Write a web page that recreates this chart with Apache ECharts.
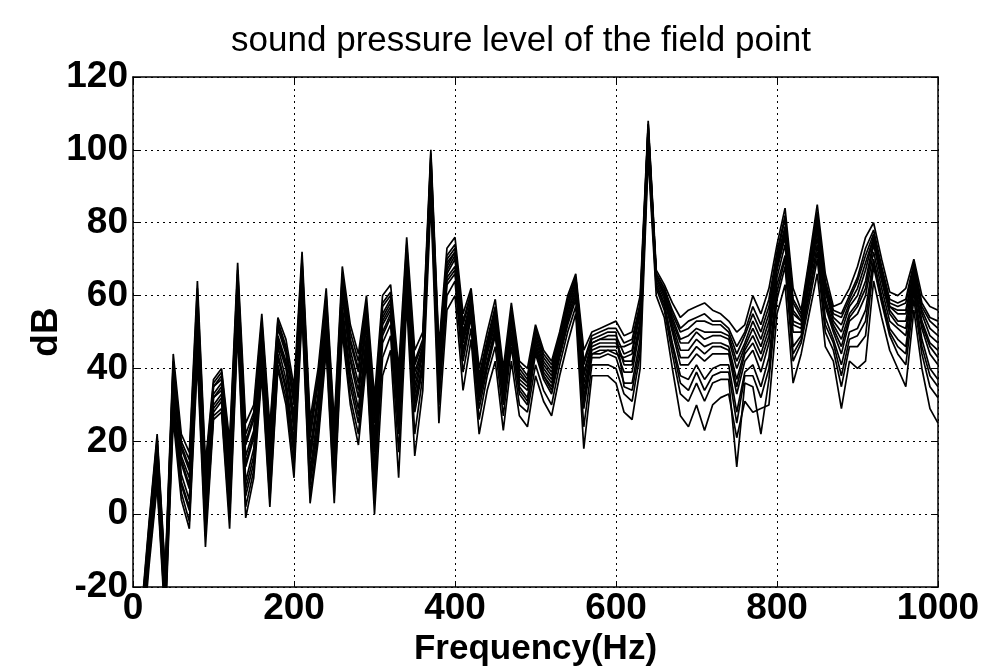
<!DOCTYPE html>
<html>
<head>
<meta charset="utf-8">
<script src="https://cdn.jsdelivr.net/npm/echarts@6/dist/echarts.min.js"></script>
<style>
html, body { margin: 0; padding: 0; background: #fff; }
#main { width: 992px; height: 672px; }
</style>
</head>
<body>
<div id="main"></div>
<script>
// frequency grid, 10 Hz step
var freq = [10, 20, 30, 40, 50, 60, 70, 80, 90, 100,
    110, 120, 130, 140, 150, 160, 170, 180, 190, 200,
    210, 220, 230, 240, 250, 260, 270, 280, 290, 300,
    310, 320, 330, 340, 350, 360, 370, 380, 390, 400,
    410, 420, 430, 440, 450, 460, 470, 480, 490, 500,
    510, 520, 530, 540, 550, 560, 570, 580, 590, 600,
    610, 620, 630, 640, 650, 660, 670, 680, 690, 700,
    710, 720, 730, 740, 750, 760, 770, 780, 790, 800,
    810, 820, 830, 840, 850, 860, 870, 880, 890, 900,
    910, 920, 930, 940, 950, 960, 970, 980, 990, 1000]

// sound pressure level (dB) of the field points
var spl1 = [-28, -2, 22, -16, 44, 22, 17, 64, 14, 37,
    40, 20, 69, 25, 30, 55, 24, 54, 48, 35,
    72, 26, 40, 62, 25, 68, 52, 44, 60, 32,
    60, 63, 40, 76, 45, 50, 100, 46, 73, 76,
    55, 62, 40, 50, 59, 40, 58, 42, 40, 52,
    45, 42, 50, 60, 66, 45, 50, 51, 52, 53,
    49, 50, 60, 108, 67, 63, 58, 54, 56, 57,
    58, 56, 55, 53, 50, 52, 60, 55, 62, 74,
    84, 62, 56, 70, 85, 66, 57, 58, 62, 68,
    76, 80, 70, 61, 60, 62, 70, 60, 57, 56]
var spl2 = [-29, -3, 21, -17, 42, 20, 15, 62, 12, 36,
    39, 18, 67, 22, 28, 53, 22, 53, 46, 33,
    70, 24, 38, 60, 23, 66, 50, 42, 58, 29,
    58, 61, 37, 74, 42, 48, 99, 44, 71, 74,
    53, 61, 38, 48, 57, 38, 56, 41, 38, 51,
    44, 41, 49, 59, 65, 42, 49, 50, 51, 51,
    47, 48, 58, 107, 66, 62, 56, 51, 53, 54,
    55, 53, 53, 51, 46, 50, 57, 52, 59, 72,
    82, 59, 55, 69, 83, 64, 56, 55, 60, 65,
    73, 78, 68, 59, 58, 59, 69, 58, 54, 53]
var spl3 = [-31, -5, 19, -19, 40, 18, 12, 59, 9, 35,
    37, 15, 65, 19, 26, 51, 19, 51, 44, 30,
    68, 21, 36, 58, 20, 64, 47, 39, 56, 25,
    55, 59, 33, 72, 39, 46, 97, 41, 69, 72,
    50, 59, 36, 46, 55, 36, 54, 39, 36, 49,
    42, 39, 47, 57, 64, 39, 47, 48, 49, 49,
    44, 45, 56, 106, 65, 61, 54, 48, 49, 51,
    50, 50, 50, 49, 42, 47, 53, 48, 55, 70,
    79, 56, 53, 67, 81, 62, 54, 52, 58, 62,
    69, 76, 66, 57, 56, 56, 67, 56, 51, 49]
var spl4 = [-32, -6, 17, -21, 38, 16, 10, 57, 6, 33,
    36, 12, 63, 16, 23, 49, 17, 49, 42, 27,
    66, 18, 33, 56, 18, 62, 45, 36, 54, 21,
    53, 57, 30, 70, 35, 45, 95, 39, 67, 71,
    48, 57, 34, 45, 53, 34, 53, 37, 35, 47,
    40, 37, 46, 56, 62, 36, 46, 47, 47, 47,
    42, 42, 53, 105, 65, 60, 52, 45, 45, 48,
    46, 47, 47, 46, 37, 45, 49, 44, 51, 68,
    77, 53, 52, 65, 79, 59, 52, 48, 55, 58,
    64, 75, 65, 56, 53, 53, 65, 53, 47, 45]
var spl5 = [-34, -8, 15, -23, 36, 14, 7, 54, 3, 32,
    34, 9, 60, 13, 21, 47, 14, 47, 40, 23,
    64, 15, 31, 54, 15, 60, 42, 32, 52, 17,
    50, 55, 26, 68, 31, 42, 93, 36, 65, 68,
    45, 55, 32, 42, 51, 32, 50, 35, 32, 45,
    38, 35, 44, 54, 61, 32, 44, 45, 45, 45,
    39, 39, 51, 103, 64, 59, 50, 41, 41, 44,
    42, 44, 44, 44, 33, 42, 45, 39, 47, 65,
    74, 50, 50, 63, 76, 57, 50, 44, 53, 55,
    60, 72, 62, 53, 51, 49, 63, 51, 44, 41]
var spl6 = [-35, -9, 14, -24, 33, 11, 4, 51, 0, 30,
    33, 6, 58, 9, 18, 45, 11, 46, 37, 20,
    62, 12, 28, 52, 12, 57, 39, 29, 49, 13,
    47, 52, 22, 65, 28, 40, 92, 33, 63, 66,
    42, 54, 29, 40, 49, 30, 48, 33, 30, 44,
    37, 33, 43, 52, 59, 29, 43, 43, 44, 43,
    36, 36, 48, 102, 63, 58, 47, 38, 37, 41,
    37, 40, 41, 41, 28, 39, 41, 35, 43, 63,
    71, 46, 49, 61, 74, 54, 48, 41, 50, 51,
    56, 70, 60, 51, 48, 46, 62, 48, 40, 37]
var spl7 = [-37, -11, 11, -27, 30, 8, 1, 47, -4, 28,
    31, 1, 54, 5, 14, 42, 7, 43, 34, 16,
    59, 8, 24, 49, 8, 54, 35, 25, 46, 7,
    43, 49, 17, 62, 22, 38, 89, 30, 60, 64,
    39, 51, 26, 38, 46, 27, 46, 30, 28, 41,
    34, 30, 41, 50, 57, 24, 41, 41, 41, 40,
    33, 31, 44, 100, 62, 56, 44, 33, 31, 36,
    31, 36, 37, 37, 13, 36, 35, 22, 37, 59,
    68, 42, 47, 58, 70, 50, 45, 35, 46, 46,
    49, 68, 58, 49, 44, 41, 59, 44, 35, 32]
var spl8 = [-40, -14, 8, -30, 26, 4, -4, 42, -9, 26,
    28, -4, 50, -1, 10, 38, 2, 40, 30, 10,
    55, 3, 20, 45, 3, 50, 30, 19, 42, 0,
    38, 45, 10, 58, 16, 34, 86, 25, 56, 60,
    34, 48, 22, 34, 42, 23, 42, 27, 24, 38,
    31, 27, 38, 47, 55, 18, 38, 38, 38, 36,
    28, 26, 40, 98, 60, 54, 40, 27, 24, 30,
    23, 30, 32, 33, 21, 31, 28, 29, 30, 55,
    63, 36, 44, 55, 66, 46, 42, 29, 42, 40,
    42, 64, 54, 45, 40, 35, 56, 40, 29, 25]
var spl9 = [-30, -4, 20, -18, 41, 19, 13, 60, 10, 35,
    38, 16, 66, 20, 27, 52, 20, 52, 45, 31,
    69, 22, 37, 59, 21, 65, 48, 40, 57, 27,
    49, 54, 24, 67, 30, 41, 92, 35, 64, 67,
    44, 55, 31, 41, 50, 31, 49, 34, 31, 45,
    38, 34, 44, 53, 60, 31, 44, 44, 45, 44,
    43, 44, 55, 106, 65, 61, 53, 47, 47, 50,
    48, 49, 49, 48, 40, 46, 51, 46, 53, 69,
    78, 55, 53, 66, 80, 61, 53, 50, 57, 60,
    67, 76, 66, 57, 55, 55, 66, 55, 49, 47]
var spl10 = [-33, -7, 16, -22, 37, 15, 8, 55, 4, 32,
    35, 10, 61, 14, 22, 48, 15, 48, 41, 25,
    65, 16, 32, 55, 16, 61, 43, 34, 53, 19,
    57, 60, 35, 73, 41, 47, 98, 43, 70, 73,
    52, 60, 37, 47, 56, 37, 55, 40, 37, 50,
    43, 40, 48, 58, 65, 41, 48, 49, 50, 50,
    35, 34, 46, 101, 63, 57, 46, 36, 34, 39,
    34, 38, 39, 39, 25, 38, 38, 32, 40, 61,
    70, 44, 48, 60, 72, 52, 47, 38, 48, 49,
    53, 69, 59, 50, 46, 44, 61, 46, 38, 35]
var spl11 = [-36, -10, 12, -25, 31, 9, 2, 49, -2, 29,
    32, 3, 56, 7, 16, 43, 9, 44, 35, 18,
    60, 10, 26, 50, 10, 55, 37, 27, 47, 10,
    54, 58, 32, 71, 37, 46, 96, 40, 68, 72,
    49, 58, 35, 46, 54, 35, 54, 38, 36, 48,
    41, 38, 47, 57, 63, 38, 47, 48, 48, 48,
    41, 41, 52, 104, 65, 60, 51, 43, 43, 46,
    44, 46, 46, 45, 35, 44, 47, 42, 49, 67,
    76, 52, 51, 64, 78, 58, 51, 46, 54, 57,
    62, 74, 64, 55, 52, 51, 64, 52, 46, 43]
var spl12 = [-38, -12, 9, -28, 28, 6, -2, 44, -6, 27,
    29, -1, 52, 2, 12, 40, 4, 41, 32, 13,
    57, 5, 22, 47, 5, 52, 32, 22, 44, 3,
    52, 56, 28, 69, 33, 44, 94, 38, 66, 70,
    47, 56, 33, 44, 52, 33, 52, 36, 34, 46,
    39, 36, 45, 55, 62, 34, 45, 46, 46, 46,
    46, 47, 57, 107, 66, 62, 55, 50, 51, 53,
    53, 52, 52, 50, 44, 49, 55, 50, 57, 71,
    81, 58, 54, 68, 82, 63, 55, 54, 59, 64,
    71, 77, 67, 58, 57, 58, 68, 57, 53, 51]

var xTicks = [0, 200, 400, 600, 800, 1000]
var yTicks = [-20, 0, 20, 40, 60, 80, 100, 120]

var curves = [spl1, spl2, spl3, spl4, spl5, spl6, spl7, spl8, spl9, spl10, spl11, spl12]

var font = "'Liberation Sans', Arial, sans-serif"

var box = document.getElementById('main')
var myChart = echarts.init(box, null, { renderer: 'canvas' })

var series = curves.map(function (c, i) {
    return {
        name: 'point ' + (i + 1),
        type: 'line',
        data: freq.map(function (f, j) { return [f, c[j]] }),
        symbol: 'none',
        clip: true,
        lineStyle: { color: '#000', width: 1.7 },
        animation: false
    }
})

var axisCommon = {
    type: 'value',
    axisLine: { show: true, onZero: false, lineStyle: { color: '#000', width: 1.5 } },
    axisTick: { show: true, inside: true, length: 6, lineStyle: { color: '#000' } },
    splitLine: { show: false }
}

var options = {
    backgroundColor: '#fff',
    title: {
        text: 'sound pressure level of the field point',
        left: 516,
        top: 19,
        textAlign: 'center',
        textStyle: { fontFamily: font, fontSize: 35, fontWeight: 'normal', color: '#000' }
    },
    grid: { left: 133, right: 54, top: 77, bottom: 84, show: false },
    xAxis: [
        Object.assign({}, axisCommon, {
            min: xTicks[0],
            max: xTicks[xTicks.length - 1],
            interval: 200,
            position: 'bottom',
            name: 'Frequency(Hz)',
            nameLocation: 'middle',
            nameGap: 42,
            nameTextStyle: { fontFamily: font, fontSize: 35, fontWeight: 'bold', color: '#000' },
            axisLabel: {
                margin: 3, fontFamily: font, fontSize: 37, fontWeight: 'bold', color: '#000',
                formatter: function (v) { return String(v) }
            },
            splitLine: { show: true, lineStyle: { color: '#000', type: [2, 4], width: 1 } }
        }),
        Object.assign({}, axisCommon, {
            min: xTicks[0],
            max: xTicks[xTicks.length - 1],
            interval: 200,
            position: 'top',
            axisLabel: { show: false }
        })
    ],
    yAxis: [
        Object.assign({}, axisCommon, {
            min: yTicks[0],
            max: yTicks[yTicks.length - 1],
            interval: 20,
            position: 'left',
            name: 'dB',
            nameLocation: 'middle',
            nameRotate: 90,
            nameGap: 68,
            nameMoveOverlap: false,
            nameTextStyle: { fontFamily: font, fontSize: 37, fontWeight: 'bold', color: '#000' },
            axisLabel: { margin: 5, fontFamily: font, fontSize: 37, fontWeight: 'bold', color: '#000' },
            splitLine: { show: true, lineStyle: { color: '#000', type: [2, 4], width: 1 } }
        }),
        Object.assign({}, axisCommon, {
            min: yTicks[0],
            max: yTicks[yTicks.length - 1],
            interval: 20,
            position: 'right',
            axisLabel: { show: false }
        })
    ],
    series: series
}
myChart.setOption(options)
</script>
</body>
</html>
